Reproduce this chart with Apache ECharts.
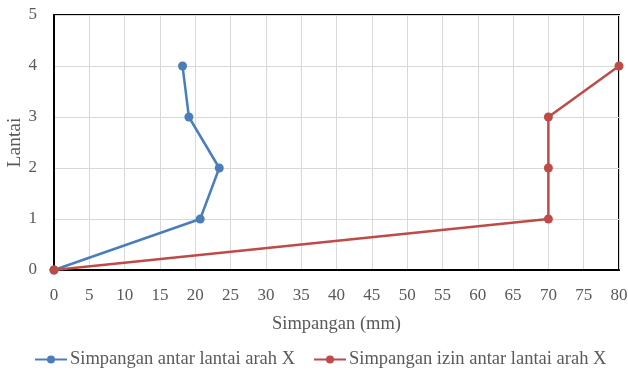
<!DOCTYPE html>
<html><head><meta charset="utf-8">
<script src="https://cdn.jsdelivr.net/npm/echarts@6/dist/echarts.min.js"></script>
<style>html,body{margin:0;padding:0;background:#fff}#c{width:628px;height:370px}</style>
</head><body><div id="c"></div>
<script>
const floors = [0, 1, 2, 3, 4];
const driftX = [0, 20.7, 23.4, 19.1, 18.2];
const allowX = [0, 70, 70, 70, 80];
const seriesNames = ['Simpangan antar lantai arah X', 'Simpangan izin antar lantai arah X'];
const xTitle = 'Simpangan (mm)';
const yTitle = 'Lantai';

const font = 'Liberation Serif';
const txt = '#595959';
const chart = echarts.init(document.getElementById('c'));
chart.setOption({
  animation: false,
  grid: {left: 54, right: 9, top: 15, bottom: 100, outerBoundsMode: 'none', containLabel: false,
         show: true, borderColor: '#000', borderWidth: 2, backgroundColor: 'transparent'},
  xAxis: {
    type: 'value', min: 0, max: 80, interval: 5,
    name: xTitle, nameLocation: 'middle', nameGap: 45, nameMoveOverlap: false,
    nameTextStyle: {fontFamily: font, fontSize: 18.5, color: txt},
    axisLine: {show: true, onZero: false, lineStyle: {color: '#000', width: 2}},
    axisTick: {show: false},
    axisLabel: {fontFamily: font, fontSize: 17, color: txt, margin: 17},
    splitLine: {show: true, lineStyle: {color: '#d9d9d9', width: 1}}
  },
  yAxis: {
    type: 'value', min: 0, max: 5, interval: 1,
    name: yTitle, nameLocation: 'middle', nameGap: 29, nameRotate: 90, nameMoveOverlap: false,
    nameTextStyle: {fontFamily: font, fontSize: 19.5, color: txt},
    axisLine: {show: true, onZero: false, lineStyle: {color: '#000', width: 2}},
    axisTick: {show: false},
    axisLabel: {fontFamily: font, fontSize: 17, color: txt, margin: 17},
    splitLine: {show: true, lineStyle: {color: '#d9d9d9', width: 1}}
  },
  legend: {
    top: 345, left: 29, itemGap: 18, itemWidth: 32, itemHeight: 10,
    textStyle: {fontFamily: font, fontSize: 18.5, color: txt, padding: [0, 0, 0, -2]},
    data: seriesNames
  },
  series: [
    {name: seriesNames[0], type: 'line', data: driftX.map((v, i) => [v, floors[i]]),
     symbol: 'circle', symbolSize: 9, color: '#4a7ebb', lineStyle: {width: 2.5, color: '#4a7ebb'}, itemStyle: {color: '#4a7ebb'}},
    {name: seriesNames[1], type: 'line', data: allowX.map((v, i) => [v, floors[i]]),
     symbol: 'circle', symbolSize: 9, color: '#be4b48', lineStyle: {width: 2.5, color: '#be4b48'}, itemStyle: {color: '#be4b48'}}
  ]
});
</script></body></html>
